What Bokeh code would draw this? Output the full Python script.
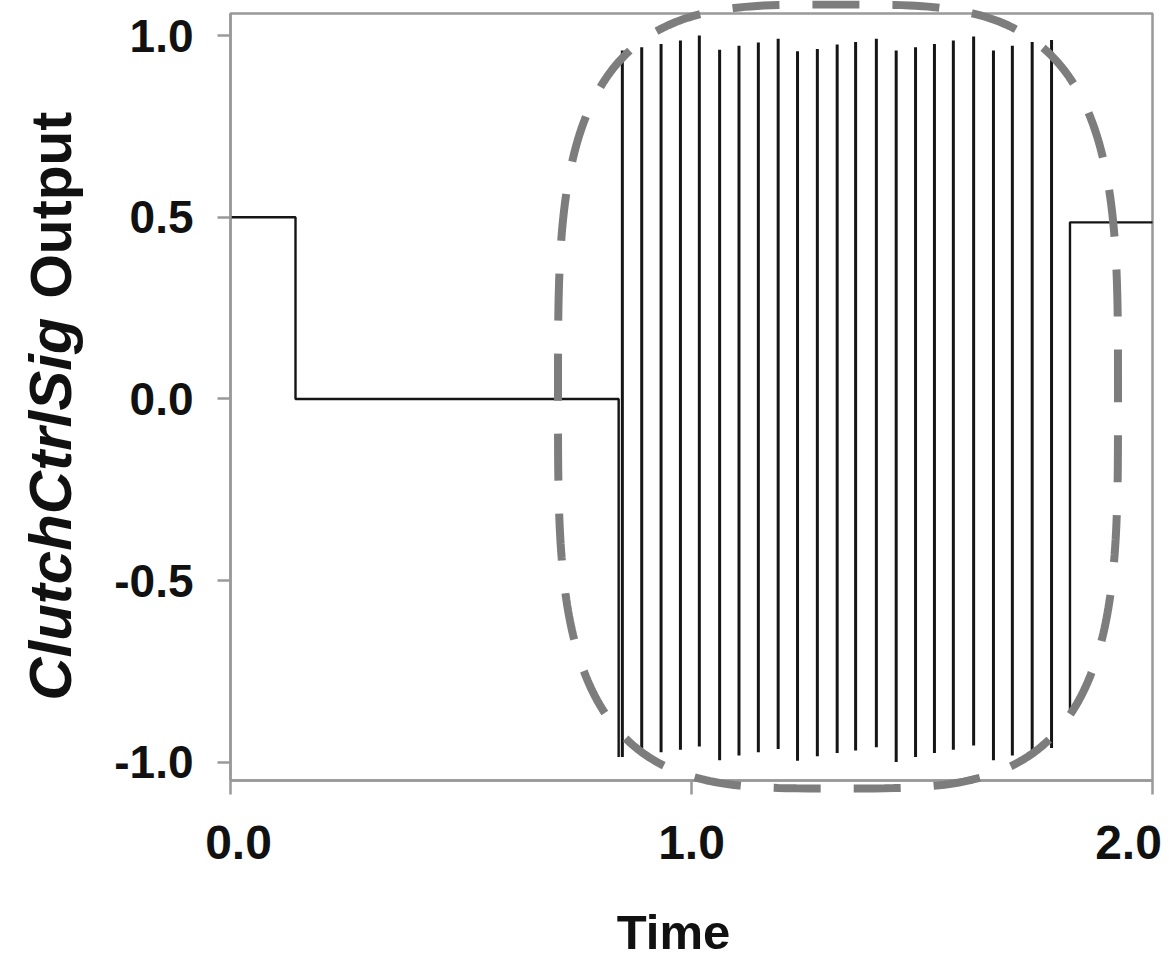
import numpy as np
from bokeh.plotting import figure
from bokeh.core.properties import value
from bokeh.models import (Range1d, FixedTicker, PolyAnnotation, LabelSet,
                          ColumnDataSource, Label, CustomJSTickFormatter,
                          LinearAxis, BoxAnnotation)
from bokeh.embed import file_html
from bokeh.resources import INLINE

# ---- signal data -------------------------------------------------------
# stepped part before the oscillation
step_t = [0.0, 0.141, 0.141, 0.842, 0.842]
step_v = [0.5, 0.5, 0.0, 0.0, -0.985]

# oscillation: one near-vertical stroke per switching event
spike_t = [0.850, 0.892, 0.934, 0.976, 1.017, 1.061, 1.103, 1.145, 1.188,
           1.230, 1.273, 1.316, 1.356, 1.401, 1.444, 1.486, 1.527, 1.568,
           1.612, 1.655, 1.696, 1.739, 1.781]
spike_hi = [0.959, 0.968, 0.977, 0.986, 1.000, 0.961, 0.972, 0.981, 0.991,
            0.957, 0.963, 0.975, 0.982, 0.991, 0.959, 0.968, 0.977, 0.986,
            0.997, 0.959, 0.972, 0.982, 0.988]
spike_lo = [-0.985, -0.981, -0.972, -0.965, -0.956, -0.994, -0.981, -0.972,
            -0.963, -0.995, -0.983, -0.974, -0.967, -0.958, -0.999, -0.985,
            -0.974, -0.965, -0.953, -0.994, -0.981, -0.972, -0.960]

# settled part after the oscillation
tail_t = [1.821, 1.821, 2.0]
tail_v = [-0.86, 0.486, 0.486]

x_ticks = [0.0, 1.0, 2.0]
x_tick_labels = ["0.0", "1.0", "2.0"]
y_ticks = [-1.0, -0.5, 0.0, 0.5, 1.0]

# ---- layout --------------------------------------------------------------
W, H = 1169, 958
X_MIN, X_MAX = 0.0, 2.0          # plotted time span
Y_MIN, Y_MAX = -1.0496, 1.0606   # plotted value span
BOX_L, BOX_R, BOX_T, BOX_B = 230, 1152, 13, 780   # plot box in pixels

sx = (BOX_R - BOX_L) / (X_MAX - X_MIN)
sy = (BOX_B - BOX_T) / (Y_MAX - Y_MIN)


def px_x(px):
    return X_MIN + (px - BOX_L) / sx


def px_y(py):
    return Y_MAX - (py - BOX_T) / sy


FONT = "Liberation Sans"
TXT = "#111111"
AXIS_GREY = "#999999"

# the frame spans the whole canvas; the chart box is drawn inside it
p = figure(width=W, height=H, output_backend="svg", toolbar_location=None,
           x_range=Range1d(px_x(0), px_x(W)), y_range=Range1d(px_y(H), px_y(0)),
           min_border=0, min_border_left=0, min_border_right=0,
           min_border_top=0, min_border_bottom=0,
           x_axis_type=None, y_axis_type=None)
p.background_fill_color = "white"
p.border_fill_color = "white"
p.outline_line_color = None
p.grid.visible = False

# chart box
p.add_layout(BoxAnnotation(left=X_MIN, right=X_MAX, bottom=Y_MIN, top=Y_MAX,
                           fill_alpha=0, line_color=AXIS_GREY, line_alpha=1,
                           line_width=2.5, level="underlay"))

# y axis pinned to the left edge of the box
ya = LinearAxis(fixed_location=X_MIN, bounds=(Y_MIN, Y_MAX),
                ticker=FixedTicker(ticks=y_ticks),
                formatter=CustomJSTickFormatter(code="return tick.toFixed(1);"))
ya.axis_line_color = AXIS_GREY
ya.axis_line_width = 2.5
ya.major_tick_line_color = AXIS_GREY
ya.major_tick_line_width = 2.5
ya.major_tick_out = 13
ya.major_tick_in = 0
ya.minor_tick_line_color = None
ya.major_label_text_font = FONT
ya.major_label_text_font_style = "bold"
ya.major_label_text_font_size = "46px"
ya.major_label_text_color = TXT
ya.major_label_standoff = 24
p.add_layout(ya, "left")

# x axis pinned to the bottom edge of the box (labels set below)
xa = LinearAxis(fixed_location=Y_MIN, bounds=(X_MIN, X_MAX),
                ticker=FixedTicker(ticks=x_ticks))
xa.axis_line_color = AXIS_GREY
xa.axis_line_width = 2.5
xa.major_tick_line_color = AXIS_GREY
xa.major_tick_line_width = 2.5
xa.major_tick_out = 14
xa.major_tick_in = 0
xa.minor_tick_line_color = None
xa.major_label_text_color = None
p.add_layout(xa, "below")

# signal trace
INK = "#151515"
p.line(step_t, step_v, line_color=INK, line_width=2.4)
p.segment(x0=spike_t, y0=spike_lo, x1=spike_t, y1=spike_hi,
          line_color=INK, line_width=3.0)
p.line(tail_t, tail_v, line_color=INK, line_width=2.4)

# dashed rounded outline around the oscillating region
cx, cy = px_x(837.5), px_y(396)
rx, ry = 280 / sx, 392 / sy
n = 3.5
th = np.linspace(0, 2 * np.pi, 400)
ex = cx + rx * np.sign(np.cos(th)) * np.abs(np.cos(th)) ** (2 / n)
ey = cy + ry * np.sign(np.sin(th)) * np.abs(np.sin(th)) ** (2 / n)
p.add_layout(PolyAnnotation(xs=list(ex), ys=list(ey), fill_alpha=0,
                            line_color="#7d7d7d", line_alpha=1, line_width=8,
                            line_dash="47 33", level="overlay"))

# x tick labels: centred on their ticks, the last one kept inside the canvas
label_shift = [8, 0, -24]
xsrc = ColumnDataSource(dict(x=x_ticks, text=x_tick_labels, dx=label_shift))
p.add_layout(LabelSet(x="x", y=px_y(842), text="text", source=xsrc,
                      x_offset="dx", text_align="center",
                      text_baseline="middle", text_font=value(FONT),
                      text_font_style="bold", text_font_size="48px",
                      text_color=TXT))

# axis titles
p.add_layout(Label(x=px_x(673), y=px_y(931), text="Time",
                   text_align="center", text_baseline="middle", text_font=FONT,
                   text_font_style="bold", text_font_size="49px",
                   text_color=TXT))
p.add_layout(Label(x=px_x(50), y=px_y(317), text="ClutchCtrlSig",
                   angle=np.pi / 2, text_align="right", text_baseline="middle",
                   text_font=FONT, text_font_style="bold italic",
                   text_font_size="60px", text_color=TXT))
p.add_layout(Label(x=px_x(50), y=px_y(298), text="Output",
                   angle=np.pi / 2, text_align="left", text_baseline="middle",
                   text_font=FONT, text_font_style="bold",
                   text_font_size="57px", text_color=TXT))

open("out.html", "w").write(file_html(p, INLINE))
